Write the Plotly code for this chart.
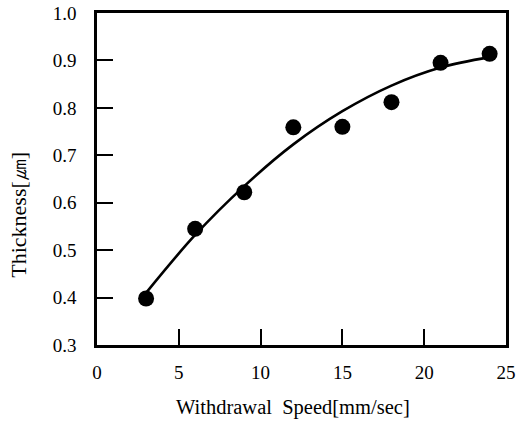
import plotly.graph_objects as go

# measured points
speed = [3, 6, 9, 12, 15, 18, 21, 24]
thickness = [0.398, 0.545, 0.622, 0.759, 0.760, 0.812, 0.895, 0.914]

# fitted curve
curve_speed = [3, 6, 9, 12, 15, 18, 21, 24]
curve_thickness = [0.41, 0.532, 0.635, 0.723, 0.793, 0.847, 0.885, 0.907]

x_ticks = [0, 5, 10, 15, 20, 25]
y_ticks = [0.3, 0.4, 0.5, 0.6, 0.7, 0.8, 0.9, 1.0]
y_tick_labels = ["0.3", "0.4", "0.5", "0.6", "0.7", "0.8", "0.9", "1.0"]

FONT = "Liberation Serif, Times New Roman, serif"

fig = go.Figure()
fig.add_trace(go.Scatter(x=curve_speed, y=curve_thickness, mode="lines",
                         line=dict(color="black", width=2.6, shape="spline", smoothing=1.0),
                         showlegend=False, hoverinfo="skip"))
fig.add_trace(go.Scatter(x=speed, y=thickness, mode="markers",
                         marker=dict(color="black", size=16),
                         showlegend=False))

fig.update_layout(
    width=519, height=423,
    margin=dict(l=97, r=3, t=11, b=78),
    paper_bgcolor="white", plot_bgcolor="white",
    font=dict(family=FONT, size=19, color="black"),
    xaxis=dict(range=[0, 25], tickvals=x_ticks, ticks="inside", ticklen=16, tickwidth=2,
               tickcolor="black", showline=True, linewidth=2.5, linecolor="black",
               mirror=True, showgrid=False, zeroline=False, ticklabelstandoff=8,
               ticklabeloverflow="allow", tickfont=dict(family=FONT, size=19)),
    yaxis=dict(range=[0.3, 1.0], tickvals=y_ticks, ticktext=y_tick_labels, ticks="inside",
               ticklen=16, tickwidth=2, tickcolor="black", showline=True, linewidth=2.5,
               linecolor="black", mirror=True, showgrid=False, zeroline=False,
               ticklabelstandoff=14, tickfont=dict(family=FONT, size=19)),
    annotations=[
        dict(text="Withdrawal  Speed[mm/sec]", xref="paper", yref="paper",
             x=0.48, y=-0.189, showarrow=False, xanchor="center", yanchor="middle",
             font=dict(family=FONT, size=20.5)),
        dict(text="Thickness[㎛]", xref="paper", yref="paper",
             x=-0.191, y=0.392, showarrow=False, xanchor="center", yanchor="middle",
             textangle=-90, font=dict(family=FONT, size=22)),
    ],
)

fig.write_html("out.html")
